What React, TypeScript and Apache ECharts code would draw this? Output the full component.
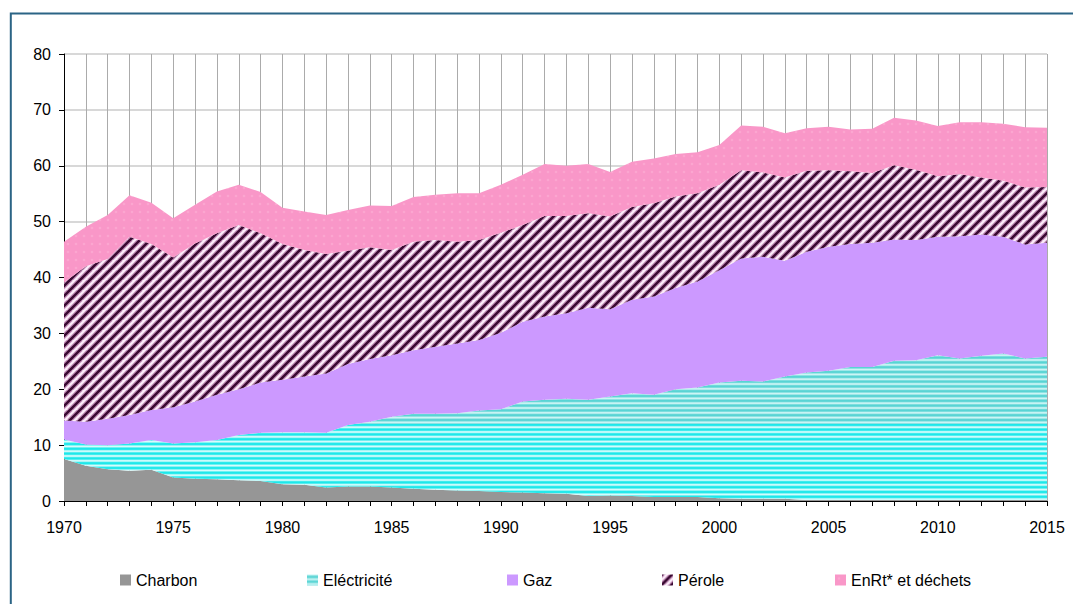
import React, { useEffect, useRef } from "react";
import * as echarts from "echarts";

const years = [
  "1970", "1971", "1972", "1973", "1974", "1975", "1976", "1977", "1978", "1979",
  "1980", "1981", "1982", "1983", "1984", "1985", "1986", "1987", "1988", "1989",
  "1990", "1991", "1992", "1993", "1994", "1995", "1996", "1997", "1998", "1999",
  "2000", "2001", "2002", "2003", "2004", "2005", "2006", "2007", "2008", "2009",
  "2010", "2011", "2012", "2013", "2014", "2015",
];

const charbon = [
  7.5, 6.3, 5.7, 5.4, 5.6, 4.2, 4.0, 3.9, 3.7, 3.6,
  3.0, 2.9, 2.4, 2.6, 2.6, 2.4, 2.2, 2.0, 1.9, 1.8,
  1.6, 1.5, 1.4, 1.3, 0.9, 1.0, 0.9, 0.7, 0.7, 0.7,
  0.5, 0.4, 0.4, 0.4, 0.2, 0.2, 0.2, 0.2, 0.2, 0.2,
  0.2, 0.2, 0.2, 0.2, 0.2, 0.2,
];

const electricite = [
  3.5, 3.8, 4.3, 4.9, 5.3, 6.1, 6.5, 7.0, 8.1, 8.6,
  9.3, 9.4, 9.8, 11.0, 11.6, 12.7, 13.4, 13.6, 13.8, 14.4,
  14.8, 16.3, 16.7, 17.0, 17.2, 17.7, 18.4, 18.3, 19.3, 19.6,
  20.7, 21.1, 21.0, 21.9, 22.8, 23.1, 23.8, 23.8, 24.9, 25.0,
  25.9, 25.3, 25.8, 26.2, 25.3, 25.6,
];

const gaz = [
  3.4, 4.1, 4.7, 5.1, 5.4, 6.5, 7.3, 8.1, 8.2, 9.0,
  9.4, 10.0, 10.6, 10.9, 11.2, 11.0, 11.4, 12.0, 12.5, 12.6,
  13.7, 14.3, 14.9, 15.3, 16.5, 15.6, 16.7, 17.6, 18.1, 19.0,
  20.1, 21.9, 22.3, 20.7, 21.6, 22.2, 22.0, 22.2, 21.7, 21.5,
  21.2, 21.9, 21.7, 20.9, 20.4, 20.4,
];

const petrole = [
  24.7, 27.8, 28.6, 31.9, 29.7, 26.8, 28.3, 28.9, 29.4, 26.7,
  24.3, 22.6, 21.4, 20.3, 20.0, 18.8, 19.4, 19.1, 18.2, 17.9,
  17.9, 17.3, 18.0, 17.4, 16.9, 16.6, 16.6, 16.7, 16.4, 15.8,
  15.3, 15.8, 15.1, 14.9, 14.5, 13.7, 13.0, 12.5, 13.3, 12.6,
  10.8, 11.1, 10.2, 10.0, 10.2, 10.0,
];

const enrt = [
  7.3, 7.1, 7.9, 7.4, 7.4, 7.0, 6.9, 7.5, 7.2, 7.4,
  6.5, 6.9, 7.0, 7.3, 7.5, 7.9, 8.0, 8.1, 8.7, 8.4,
  8.6, 9.0, 9.3, 9.0, 8.8, 8.0, 8.1, 8.0, 7.6, 7.3,
  7.1, 8.0, 8.2, 7.9, 7.6, 7.8, 7.5, 7.9, 8.5, 8.8,
  9.0, 9.3, 9.9, 10.2, 10.8, 10.6,
];

const seriesNames = ["Charbon", "Eléctricité", "Gaz", "Pérole", "EnRt* et déchets"];
const yTicks = [0, 80, 10];

const FONT = "'Liberation Sans', Arial, sans-serif";

function makeCanvas(w: number, h: number) {
  const c = document.createElement("canvas");
  c.width = w;
  c.height = h;
  return c;
}

function elecPattern() {
  const w = 4, h = 620;
  const c = makeCanvas(w, h);
  const ctx = c.getContext("2d")!;
  for (let y = 0; y < h; y++) {
    let t = 0.5 + 0.5 * Math.cos((2 * Math.PI * (y + 0.5)) / 4.8);
    t = Math.pow(t, 1.4);
    const upper = y < 424;
    const dark = upper ? [88, 212, 212] : [28, 232, 234];
    const light = upper ? [205, 245, 245] : [214, 252, 252];
    const col = dark.map((d, i) => Math.round(d + (light[i] - d) * t));
    ctx.fillStyle = `rgb(${col[0]},${col[1]},${col[2]})`;
    ctx.fillRect(0, y, w, 1);
  }
  return { image: c, repeat: "repeat", imageWidth: w, imageHeight: h };
}

function diagPattern() {
  const s = 10;
  const c = makeCanvas(s, s);
  const ctx = c.getContext("2d")!;
  ctx.fillStyle = "#fcedfa";
  ctx.fillRect(0, 0, s, s);
  const drawLines = () => {
    ctx.beginPath();
    for (const o of [-s, 0, s]) {
      ctx.moveTo(o - 1, s + 1);
      ctx.lineTo(o + s + 1, -1);
    }
    ctx.stroke();
  };
  ctx.strokeStyle = "rgba(140,50,120,0.5)";
  ctx.lineWidth = 5;
  drawLines();
  ctx.strokeStyle = "#3a0a32";
  ctx.lineWidth = 2.6;
  drawLines();
  return { image: c, repeat: "repeat", imageWidth: s, imageHeight: s };
}

function pinkPattern() {
  const s = 8;
  const c = makeCanvas(s, s);
  const ctx = c.getContext("2d")!;
  ctx.fillStyle = "#f997c8";
  ctx.fillRect(0, 0, s, s);
  ctx.fillStyle = "#fba6d0";
  ctx.beginPath();
  ctx.arc(4, 4, 1.3, 0, Math.PI * 2);
  ctx.fill();
  return { image: c, repeat: "repeat", imageWidth: s, imageHeight: s };
}

export default function App() {
  const ref = useRef<HTMLDivElement>(null);

  useEffect(() => {
    if (!ref.current) return;
    const chart = echarts.init(ref.current, null, { renderer: "svg" });

    const fills: any[] = ["#969696", elecPattern(), "#cc99ff", diagPattern(), pinkPattern()];
    const dataSets = [charbon, electricite, gaz, petrole, enrt];
    const legendLefts = [120, 307, 507, 662, 835];

    const series = seriesNames.map((name, i) => ({
      name,
      type: "line",
      stack: "total",
      data: dataSets[i],
      symbol: "none",
      showSymbol: false,
      smooth: false,
      lineStyle: { width: 0, opacity: 0 },
      itemStyle: { color: fills[i] },
      areaStyle: { color: fills[i], opacity: 1 },
      emphasis: { disabled: true },
      z: 2,
    }));

    const legends = seriesNames.map((name, i) => ({
      data: [name],
      left: legendLefts[i],
      top: 572,
      orient: "horizontal",
      icon: "rect",
      itemWidth: 11,
      itemHeight: 11,
      itemGap: 0,
      padding: 0,
      selectedMode: false,
      textStyle: { fontSize: 16, fontFamily: FONT, color: "#000" },
    }));

    chart.setOption({
      animation: false,
      backgroundColor: "#ffffff",
      grid: { left: 64, right: 26, top: 54, bottom: 103, containLabel: false },
      legend: legends,
      xAxis: {
        type: "category",
        data: years,
        boundaryGap: false,
        axisLine: { show: true, lineStyle: { color: "#000", width: 1 } },
        axisTick: { show: true, interval: 0, length: 5, inside: false, lineStyle: { color: "#000" } },
        axisLabel: {
          interval: 4,
          margin: 18,
          fontSize: 16,
          fontFamily: FONT,
          color: "#000",
        },
        splitLine: { show: true, interval: 0, lineStyle: { color: "#ababab", width: 1 } },
      },
      yAxis: {
        type: "value",
        min: yTicks[0],
        max: yTicks[1],
        interval: yTicks[2],
        axisLine: { show: true, lineStyle: { color: "#000", width: 1 } },
        axisTick: { show: true, length: 5, inside: false, lineStyle: { color: "#000" } },
        axisLabel: { margin: 13, fontSize: 16, fontFamily: FONT, color: "#000" },
        splitLine: { show: true, lineStyle: { color: "#cbcbcb", width: 1.5 } },
      },
      graphic: [
        {
          type: "rect",
          silent: true,
          shape: { x: 10.8, y: 13.6, width: 1100, height: 700 },
          style: { fill: "none", stroke: "#2b6485", lineWidth: 2 },
          z: 100,
        },
      ],
      series,
    });

    return () => chart.dispose();
  }, []);

  return (
    <div
      ref={ref}
      style={{ position: "fixed", left: 0, top: 0, width: 1073, height: 604, background: "#fff" }}
    />
  );
}
